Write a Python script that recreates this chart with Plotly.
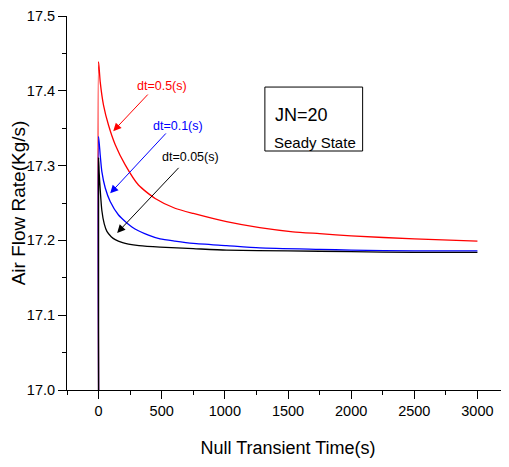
import plotly.graph_objects as go

# --- data ---
t_red = [0, 0, 13, 39, 79, 132, 211, 316, 448, 605, 750, 1013, 1276, 1539, 1750, 2000, 2500, 3000]
v_red = [17.0, 17.439, 17.412, 17.381, 17.354, 17.328, 17.301, 17.274, 17.256, 17.243, 17.236,
         17.225, 17.217, 17.2115, 17.209, 17.206, 17.202, 17.199]

t_blue = [0, 0, 13, 26, 53, 92, 158, 264, 395, 487, 605, 750, 1013, 1276, 1750, 2000, 2500, 3000]
v_blue = [17.0, 17.339, 17.314, 17.292, 17.270, 17.252, 17.234, 17.218, 17.207, 17.202, 17.199,
          17.196, 17.193, 17.190, 17.188, 17.187, 17.186, 17.186]

t_black = [0, 0, 5, 13, 26, 45, 66, 100, 132, 190, 237, 320, 487, 750, 1013, 1500, 2000, 2500, 3000]
v_black = [17.0, 17.310, 17.290, 17.268, 17.240, 17.222, 17.212, 17.205, 17.201, 17.197, 17.195,
           17.193, 17.191, 17.189, 17.187, 17.186, 17.185, 17.184, 17.184]

series_names = ["dt=0.5(s)", "dt=0.1(s)", "dt=0.05(s)"]
series_colors = ["#ff0000", "#0000ff", "#000000"]

x_ticks = [0, 500, 1000, 1500, 2000, 2500, 3000]
y_ticks = [17.0, 17.1, 17.2, 17.3, 17.4, 17.5]

x_title = "Null Transient Time(s)"
y_title = "Air Flow Rate(Kg/s)"
box_lines = ["JN=20", "Seady State"]

FONT = "Liberation Sans, Arial, sans-serif"

fig = go.Figure()
for t, v, name, col in zip([t_red, t_blue, t_black], [v_red, v_blue, v_black], series_names, series_colors):
    fig.add_trace(go.Scatter(x=t, y=v, mode="lines", name=name, line_shape="spline",
                             line=dict(color=col, width=1.3, smoothing=0.6), showlegend=False,
                             cliponaxis=False))

# arrow annotations: (label x,y), (tail x,y), (tip x,y) in data coords
arrows = [
    (500, 17.406, 401, 17.397, 116, 17.346),
    (632, 17.353, 544, 17.345, 92, 17.263),
    (725, 17.311, 645, 17.299, 147, 17.210),
]
for (lx, ly, ax_, ay_, tx, ty), name, col in zip(arrows, series_names, series_colors):
    fig.add_annotation(x=lx, y=ly, text=name, showarrow=False,
                       font=dict(family=FONT, size=12.5, color=col), xref="x", yref="y")
    fig.add_annotation(x=tx, y=ty, ax=ax_, ay=ay_, axref="x", ayref="y", xref="x", yref="y",
                       text="", showarrow=True, arrowhead=2, arrowsize=1.6, arrowwidth=1,
                       arrowcolor=col)

fig.add_shape(type="rect", x0=1317, x1=2091, y0=17.3195, y1=17.405, xref="x", yref="y",
              line=dict(color="black", width=1))
fig.add_annotation(x=1380, y=17.3676, text=box_lines[0], showarrow=False, xanchor="left",
                   font=dict(family=FONT, size=18, color="black"))
fig.add_annotation(x=1375, y=17.331, text=box_lines[1], showarrow=False, xanchor="left",
                   font=dict(family=FONT, size=15, color="black"))

# page body has an 8px margin, so the figure is sized/offset to compensate
fig.update_layout(
    width=501, height=459,
    margin=dict(l=59, r=0, t=8, b=77),
    paper_bgcolor="white", plot_bgcolor="white",
    font=dict(family=FONT, size=14, color="black"),
)
fig.update_xaxes(
    range=[-250, 3250], tickvals=x_ticks, ticks="outside", ticklen=8, tickwidth=1,
    tickcolor="black", showline=True, linecolor="black", linewidth=1, showgrid=False,
    zeroline=False, tickfont=dict(family=FONT, size=14.5), automargin=False,
    ticklabeloverflow="allow",
    minor=dict(dtick=250, tick0=0, ticks="outside", ticklen=4, tickcolor="black", showgrid=False),
    title=dict(text=x_title, font=dict(family=FONT, size=18), standoff=22),
)
fig.update_yaxes(
    range=[17.0, 17.5], tickvals=y_ticks, tickformat=".1f", ticks="outside", ticklen=8,
    tickwidth=1, tickcolor="black", showline=True, linecolor="black", linewidth=1,
    showgrid=False, zeroline=False, tickfont=dict(family=FONT, size=14.5), automargin=False,
    ticklabeloverflow="allow",
    minor=dict(dtick=0.05, tick0=17.0, ticks="outside", ticklen=4, tickcolor="black", showgrid=False),
    title=dict(text=y_title, font=dict(family=FONT, size=19), standoff=2),
)

fig.write_html("out.html")
